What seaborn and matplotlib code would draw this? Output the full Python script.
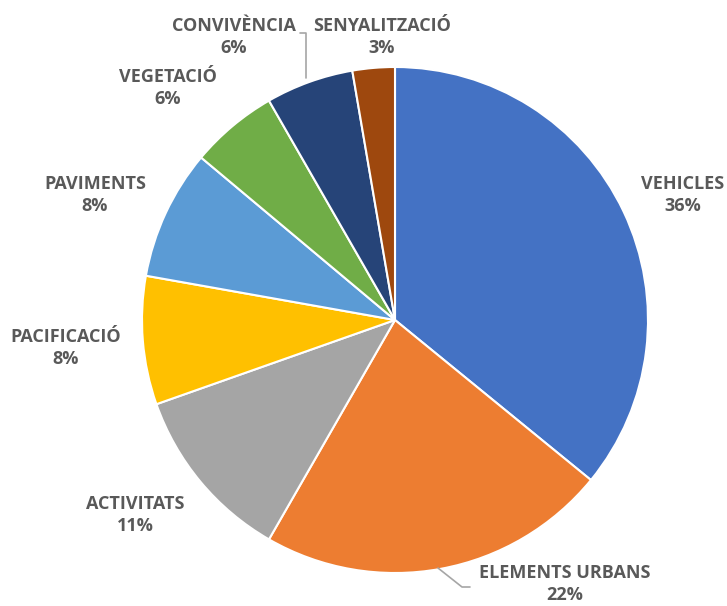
import matplotlib
matplotlib.use("Agg")
import matplotlib.pyplot as plt
import seaborn as sns

categories = ["VEHICLES", "ELEMENTS URBANS", "ACTIVITATS", "PACIFICACIÓ",
              "PAVIMENTS", "VEGETACIÓ", "CONVIVÈNCIA", "SENYALITZACIÓ"]
values = [35.9, 22.4, 11.3, 8.2, 8.3, 5.6, 5.6, 2.7]
pct_labels = ["36%", "22%", "11%", "8%", "8%", "6%", "6%", "3%"]
colors = ["#4472C4", "#ED7D31", "#A5A5A5", "#FFC000",
          "#5B9BD5", "#70AD47", "#264478", "#9E480E"]

sns.set_theme(style="white")
plt.rcParams['font.family'] = ['Open Sans', 'DejaVu Sans']

W, H = 727, 606
fig = plt.figure(figsize=(W / 100, H / 100), dpi=100)
ax = fig.add_axes([0, 0, 1, 1])

cx, cy, r = 395, H - 320, 253
ax.pie(values, colors=colors, startangle=90, counterclock=False,
       center=(cx, cy), radius=r, frame=True,
       wedgeprops=dict(edgecolor="white", linewidth=1.5))
ax.set_xlim(0, W)
ax.set_ylim(0, H)
ax.set_aspect('equal')
ax.axis('off')

# label positions (pixel coords of the text centre)
label_pos = [(683, 195), (565, 584), (135, 515), (66, 348),
             (95, 195), (168, 88), (234, 37), (382, 37)]
for name, pct, (x, y) in zip(categories, pct_labels, label_pos):
    ax.text(x, H - y, f"{name}\n{pct}", ha="center", va="center",
            fontsize=13, fontweight="bold", color="#595959",
            linespacing=1.3)

# leader lines
ax.plot([300, 306, 306], [H - 33, H - 33, H - 78], color="#A6A6A6", lw=1.2)
ax.plot([438, 462, 470], [H - 568, H - 587, H - 587], color="#A6A6A6", lw=1.2)

fig.savefig("out.png", dpi=100, facecolor="white")
